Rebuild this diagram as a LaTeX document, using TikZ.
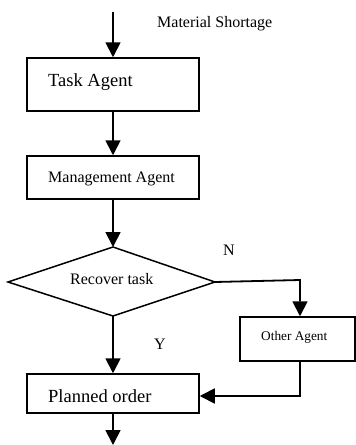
\documentclass[tikz,border=0pt]{standalone}
\usepackage{fontspec}
\setmainfont{Liberation Serif}
\usetikzlibrary{arrows.meta}
\begin{document}
\begin{tikzpicture}[x=1pt,y=-1pt,
  box/.style={draw, line width=1.5pt, inner sep=0pt},
  flow/.style={line width=1.8pt, -{Triangle[length=15pt,width=15pt]}},
  label/.style={inner sep=0pt, anchor=base west},
  big/.style={font=\fontsize{18.5}{20}\selectfont},
  mid/.style={font=\fontsize{16}{18}\selectfont},
  small/.style={font=\fontsize{13.3}{15}\selectfont}]
\useasboundingbox (0,0) rectangle (356,445);

% process boxes
\node[box, minimum width=172pt, minimum height=53pt] (task) at (113,84.5) {};
\node[box, minimum width=172pt, minimum height=43pt] (mgmt) at (113,177.5) {};
\node[box, minimum width=115pt, minimum height=44pt] (oth) at (297.5,339) {};
\node[box, minimum width=172pt, minimum height=39pt] (plan) at (113,393.5) {};

% decision diamond
\coordinate (dtop) at (113,247);
\coordinate (dleft) at (8,282);
\coordinate (dright) at (215,282);
\coordinate (dbot) at (113,316);
\draw[line width=1.5pt, line join=miter] (dtop) -- (dright) -- (dbot) -- (dleft) -- cycle;

% texts
\node[label, big] (tTask) at (48,86) {Task Agent};
\node[label, mid] (tMgmt) at (48,182) {Management Agent};
\node[label, mid] (tRec) at (70,284) {Recover task};
\node[label, small] (tOth) at (261,340) {Other Agent};
\node[label, big] (tPlan) at (48,402.5) {Planned order};
\node[label, mid] (tMat) at (157,27) {Material Shortage};
\node[label, mid] (tN) at (223,255) {N};
\node[label, mid] (tY) at (154,349) {Y};

% connectors
\coordinate (in) at (113,12);
\coordinate (out) at (113,445);
\coordinate (nturn) at (300,280);
\draw[flow] (in) -- (task.north);
\draw[flow] (task.south) -- (mgmt.north);
\draw[flow] (mgmt.south) -- (dtop);
\draw[flow] (dright) -- (nturn) -- (nturn |- oth.north);
\draw[flow] (dbot) -- (plan.north);
\draw[flow] (nturn |- oth.south) |- ([yshift=-2.5pt]plan.east);
\draw[flow] (plan.south) -- (out);
\end{tikzpicture}
\end{document}
